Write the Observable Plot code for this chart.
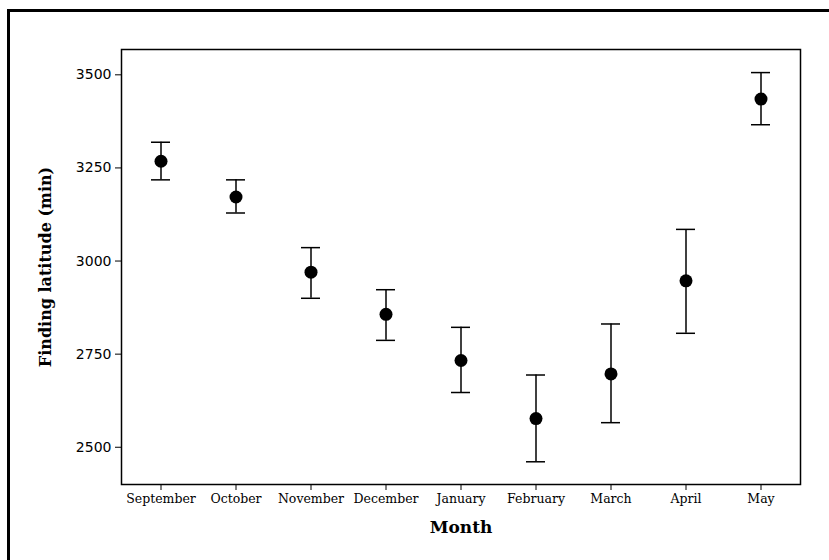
<!DOCTYPE html>
<html><head><meta charset="utf-8">
<script src="https://cdn.jsdelivr.net/npm/d3@7"></script>
<script src="https://cdn.jsdelivr.net/npm/@observablehq/plot@0.6"></script>
<style>
html,body{margin:0;padding:0;background:#fff;width:829px;height:560px;overflow:hidden;}
#border{position:absolute;left:7px;top:9px;width:900px;height:700px;border-top:3px solid #000;border-left:3px solid #000;box-sizing:border-box;}
#chart{position:absolute;left:0;top:0;}
</style></head><body>
<div id="border"></div>
<div id="chart"></div>
<script>
const months = ["September","October","November","December","January","February","March","April","May"];
const means = [3268, 3172, 2970, 2857, 2733, 2577, 2697, 2947, 3435];
const upper = [3319, 3218, 3036, 2923, 2822, 2694, 2831, 3085, 3506];
const lower = [3218, 3129, 2900, 2787, 2647, 2461, 2566, 2806, 3366];
const yTicks = [2500, 2750, 3000, 3250, 3500];
const yTitle = "Finding latitude (min)";
const xTitle = "Month";

const data = months.map((m, i) => ({month: m, mean: means[i], lo: lower[i], hi: upper[i]}));

const chart = Plot.plot({
  width: 829, height: 560,
  marginTop: 49, marginLeft: 121, marginRight: 29, marginBottom: 76,
  style: {background: "transparent", color: "#000"},
  x: {type: "band", domain: months, padding: 0, label: null},
  y: {domain: [2400, 3568], label: null},
  marks: [
    Plot.frame({stroke: "#000", strokeWidth: 1.5}),
    Plot.axisY({ticks: yTicks, tickFormat: d => String(d), tickSize: 6, tickPadding: 4, fontSize: 14, fontFamily: "DejaVu Sans", label: null}),
    Plot.axisX({tickSize: 6, tickPadding: 4, fontSize: 12.5, fontFamily: "DejaVu Serif", label: null}),
    Plot.ruleX(data, {x: "month", y1: "lo", y2: "hi", stroke: "#000", strokeWidth: 1.5}),
    Plot.tickY(data, {x: "month", y: "lo", insetLeft: 28, insetRight: 28, stroke: "#000", strokeWidth: 1.5}),
    Plot.tickY(data, {x: "month", y: "hi", insetLeft: 28, insetRight: 28, stroke: "#000", strokeWidth: 1.5}),
    Plot.dot(data, {x: "month", y: "mean", r: 6.5, fill: "#000", stroke: "none"}),
    Plot.text([yTitle], {text: d => d, frameAnchor: "left", textAnchor: "middle", lineAnchor: "middle", dx: -76, rotate: -90, fontSize: 16, fontWeight: "bold", fontFamily: "DejaVu Serif", fill: "#000"}),
    Plot.text([xTitle], {text: d => d, frameAnchor: "bottom", textAnchor: "middle", lineAnchor: "middle", dy: 43, fontSize: 17, fontWeight: "bold", fontFamily: "DejaVu Serif", fill: "#000"})
  ]
});
document.getElementById("chart").appendChild(chart);
</script>
</body></html>
